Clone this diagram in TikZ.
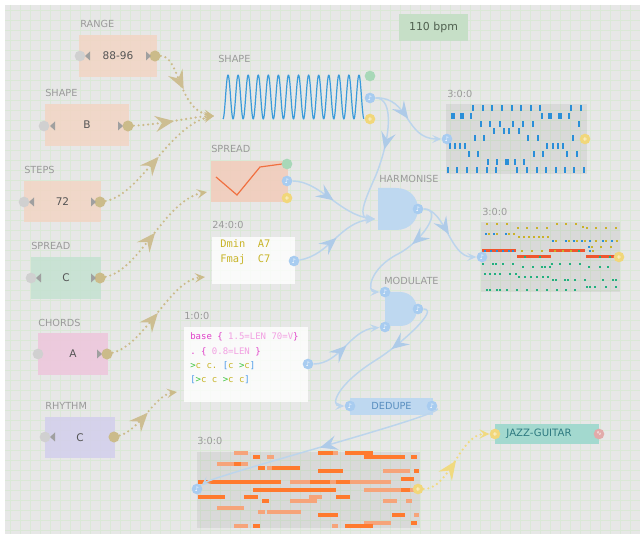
\documentclass[tikz,border=0pt]{standalone}
\usepackage{fontspec}
\setmainfont{DejaVu Sans}
\setmonofont{DejaVu Sans Mono}
\usetikzlibrary{arrows.meta,decorations.markings}
\definecolor{bgc}{HTML}{E7E7E7}
\definecolor{gridc}{HTML}{DAE8D6}
\definecolor{lblc}{HTML}{9A9A9A}
\definecolor{ptxt}{HTML}{555555}
\definecolor{peach}{HTML}{F2D5C4}
\definecolor{mint}{HTML}{C4E2D1}
\definecolor{pinkc}{HTML}{EEC5DC}
\definecolor{lav}{HTML}{D3CFEC}
\definecolor{salmon}{HTML}{F2CBBA}
\definecolor{tanc}{HTML}{CBBB8A}
\definecolor{tanm}{HTML}{CDBE92}
\definecolor{portgray}{HTML}{D0D0D0}
\definecolor{trigray}{HTML}{A0A0A0}
\definecolor{bluep}{HTML}{A8CCF0}
\definecolor{yellowp}{HTML}{F1D77A}
\definecolor{greenp}{HTML}{A8D8B8}
\definecolor{gatec}{HTML}{BED8F0}
\definecolor{linkc}{HTML}{BCD5EC}
\definecolor{linkd}{HTML}{AECBE8}
\definecolor{wavec}{HTML}{3A9BDA}
\definecolor{barblue}{HTML}{2A8FD8}
\definecolor{orA}{HTML}{FF7A2E}
\definecolor{orB}{HTML}{F6A47A}
\definecolor{olive}{HTML}{C9B22A}
\definecolor{redc}{HTML}{F0552E}
\definecolor{tealc}{HTML}{22B07E}
\definecolor{bpmc}{HTML}{C6DFC7}
\definecolor{bpmt}{HTML}{4F5F4F}
\definecolor{jazzc}{HTML}{A3D9CF}
\definecolor{jazzt}{HTML}{2E7A80}
\definecolor{dedt}{HTML}{5A8FC0}
\definecolor{magc}{HTML}{E040C8}
\definecolor{lmag}{HTML}{F2A0E2}
\definecolor{grc}{HTML}{3CC43C}
\definecolor{brc}{HTML}{4A9AE8}
\definecolor{codey}{HTML}{C8B428}
\definecolor{redport}{HTML}{E2AAAA}
\definecolor{yellk}{HTML}{F0DA80}
\definecolor{sprline}{HTML}{F07040}
\tikzset{
  lbl/.style={anchor=base west, inner sep=0pt, text=lblc, font=\fontsize{7.3}{8}\selectfont},
  pbox/.style n args={3}{rectangle, inner sep=0pt, fill=#1, fill opacity=0.85, text opacity=1,
     minimum width=#2*0.75pt, minimum height=#3*0.75pt, text=ptxt, font=\fontsize{7.9}{9}\selectfont},
  port/.style={circle, inner sep=0pt, minimum size=8pt, text=white, font=\fontsize{4.8}{5}\selectfont},
  gport/.style={port, fill=portgray},
  tport/.style={port, fill=tanc, minimum size=8.3pt},
  bport/.style={port, fill=bluep},
  yport/.style={port, fill=yellowp},
  grport/.style={port, fill=greenp},
  tanlink/.style={draw=tanc, line width=1.8pt, dash pattern=on 0pt off 3.6pt, line cap=round,
     -{Stealth[length=7.5pt,width=7pt,inset=3.2pt]}},
  yellink/.style={tanlink, draw=yellk},
  bluelink/.style={draw=linkc, line width=1.1pt, -{Stealth[length=7pt,width=6pt,inset=3pt]}},
  tanmid/.style={postaction={decorate,decoration={markings,mark=at position #1 with {\arrow[tanm]{Stealth[length=14pt,width=12pt,inset=5pt]}}}}},
  yelmid/.style={postaction={decorate,decoration={markings,mark=at position #1 with {\arrow[yellk]{Stealth[length=14pt,width=12pt,inset=5pt]}}}}},
  bluemid/.style={postaction={decorate,decoration={markings,mark=at position #1 with {\arrow[linkd]{Stealth[length=13pt,width=11pt,inset=5pt]}}}}},
  plotbox/.style={fill=black, fill opacity=0.06},
  textbox/.style={fill=white, fill opacity=0.8},
  codef/.style={anchor=base west, inner sep=0pt, font=\ttfamily\fontsize{6.75}{8}\selectfont},
  chordf/.style={anchor=base west, inner sep=0pt, text=codey, font=\ttfamily\fontsize{7.8}{9}\selectfont},
}
\begin{document}
\begin{tikzpicture}[x=0.75pt,y=-0.75pt]
\useasboundingbox (0,0) rectangle (640,534);
\fill[white] (0,0) rectangle (640,534);
\fill[bgc] (5,5) rectangle (640,534);
\foreach \i in {10,20,...,630} \draw[gridc, line width=0.45pt] (\i,5) -- (\i,534);
\foreach \j in {10,20,...,530} \draw[gridc, line width=0.45pt] (5,\j) -- (640,\j);

% ---------------- parameter boxes ----------------
\node[lbl] (lRange) at (80,28) {RANGE};
\node[pbox={peach}{78}{42}] (range) at (118,56) {88-96};
\node[lbl] (lShape) at (45,97) {SHAPE};
\node[pbox={peach}{84}{42}] (shapep) at (87,125) {B};
\node[lbl] (lSteps) at (24,174) {STEPS};
\node[pbox={peach}{77}{41}] (steps) at (62.5,201.5) {72};
\node[lbl] (lSpread) at (31,250) {SPREAD};
\node[pbox={mint}{70}{42}] (spreadp) at (66,278) {C};
\node[lbl] (lChords) at (38,327) {CHORDS};
\node[pbox={pinkc}{70}{42}] (chords) at (73,354) {A};
\node[lbl] (lRhythm) at (45,410) {RHYTHM};
\node[pbox={lav}{70}{41}] (rhythm) at (80,437.5) {C};

% ports of parameter boxes
\node[gport] (rangeL) at (80,56) {};
\node[tport] (rangeR) at (155,56) {};
\node[gport] (shapeL) at (44,126) {};
\node[tport] (shapeR) at (128,126) {};
\node[gport] (stepsL) at (24,202) {};
\node[tport] (stepsR) at (100,202) {};
\node[gport] (spreadL) at (31,278) {};
\node[tport] (spreadR) at (100,278) {};
\node[gport] (chordsL) at (38,354) {};
\node[tport] (chordsR) at (107,354) {};
\node[gport] (rhythmL) at (45,437) {};
\node[tport] (rhythmR) at (114,437) {};
% little triangles
\fill[trigray] (85,56) -- (90,51.5) -- (90,60.5) -- cycle;
\fill[trigray] (151,56) -- (146,51.5) -- (146,60.5) -- cycle;
\fill[trigray] (50,126) -- (55,121.5) -- (55,130.5) -- cycle;
\fill[trigray] (123,126) -- (118,121.5) -- (118,130.5) -- cycle;
\fill[trigray] (29,202) -- (34,197.5) -- (34,206.5) -- cycle;
\fill[trigray] (96,202) -- (91,197.5) -- (91,206.5) -- cycle;
\fill[trigray] (36,278) -- (41,273.5) -- (41,282.5) -- cycle;
\fill[trigray] (96,278) -- (91,273.5) -- (91,282.5) -- cycle;
\fill[trigray] (102,354) -- (97,349.5) -- (97,358.5) -- cycle;
\fill[trigray] (50,437) -- (55,432.5) -- (55,441.5) -- cycle;

% ---------------- SHAPE waveform ----------------
\node[lbl] (lWave) at (218,63) {SHAPE};
\draw[wavec, line width=0.9pt, line join=round] plot[domain=0:1, samples=340] ({223+141*\x}, {97+22*cos(14*360*\x)});
\coordinate (waveIn) at (214,116);
\node[grport] (waveG) at (370,76) {};
\node[bport] (waveB) at (370,98) {♪};
\node[yport] (waveY) at (370,119) {+};

% ---------------- SPREAD plot ----------------
\node[lbl] (lSprPlot) at (211,153) {SPREAD};
\fill[salmon, fill opacity=0.85] (211,161) rectangle (288,202);
\draw[sprline, line width=0.9pt] (216,177) -- (237,195) -- (260,167) -- (282,164);
\coordinate (sprIn) at (207,192);
\node[grport] (sprG) at (287,164) {};
\node[bport] (sprB) at (287,181) {♪};
\node[yport] (sprY) at (287,198) {+};

% ---------------- chord text ----------------
\node[lbl] (lChordT) at (212,229) {24:0:0};
\fill[textbox] (212,237) rectangle (295,284);
\node[chordf] (ch1) at (220,248) {Dmin~~A7};
\node[chordf] (ch2) at (220,263) {Fmaj~~C7};
\coordinate (chordIn) at (205,277);
\node[bport] (chordOut) at (294,261) {♪};

% ---------------- code text ----------------
\node[lbl] (lCode) at (184,320) {1:0:0};
\fill[textbox] (184,327) rectangle (308,402);
\node[codef] (c1) at (190,340) {\color{magc}base \{ \color{lmag}1.5=LEN 70=V\color{magc}\}};
\node[codef] (c2) at (190,355) {\color{magc}. \{ \color{lmag}0.8=LEN \color{magc}\}};
\node[codef] (c3) at (190,369) {\color{grc}>\color{codey}c c. \color{brc}[\color{codey}c \color{grc}>\color{codey}c\color{brc}]};
\node[codef] (c4) at (190,383) {\color{brc}[\color{grc}>\color{codey}c c \color{grc}>\color{codey}c c\color{brc}]};
\coordinate (codeIn) at (177,392);
\node[bport] (codeOut) at (308,364) {♪};

% ---------------- bpm ----------------
\node[rectangle, fill=bpmc, minimum width=51.75pt, minimum height=20.25pt, inner sep=0pt,
  text=bpmt, font=\fontsize{8.2}{10}\selectfont] (bpm) at (433.5,27.5) {110 bpm};

% ---------------- rhythm plot ----------------
\node[lbl] (lRhy) at (447,98) {3:0:0};
\fill[plotbox] (446,104) rectangle (587,174);
\foreach \y/\xs in {108/{473,483,492,502,512,521,531,540,571,581},
  116/{471,542,569},
  124/{481,490,500,513,523,533,579},
  131/{494,504,509,519},
  138/{475,484,528,538,573},
  146/{450,455,460,465,547,553,558,563},
  154/{469,478,534,543,567,577},
  162/{488,497,506,508,515,524},
  170/{448,457,467,477,487,496,517,527,537,546,556,565,574,584}}
  {\foreach \x in \xs {\fill[barblue] ({\x-0.9},{\y-3}) rectangle ({\x+0.9},{\y+3});}}
\foreach \x in {453,462,550,560} \fill[barblue] ({\x-1.6},113) rectangle ({\x+1.6},119);
\node[bport] (rhyIn) at (447,139) {♪};
\node[yport] (rhyOut) at (585,139) {+};

% ---------------- HARMONISE ----------------
\node[lbl] (lHarm) at (379,183) {HARMONISE};
\fill[gatec] (378,188) -- (396,188) .. controls (410,188) and (418,198) .. (418,209)
   .. controls (418,220) and (410,230) .. (396,230) -- (378,230) -- cycle;
\coordinate (harmIn) at (375,219);
\node[bport] (harmOut) at (418,209) {♪};

% ---------------- mixed plot ----------------
\node[lbl] (lMix) at (482,216) {3:0:0};
\fill[plotbox] (481,222) rectangle (620,292);
\fill[redc] (482,249.5) rectangle (516,252.5);
\fill[redc] (549,249.5) rectangle (585,252.5);
\fill[redc] (517,255.5) rectangle (551,258.5);
\fill[redc] (586,255.5) rectangle (618,258.5);
\foreach \x/\y/\c in {
  487/224/olive,497/224/olive,507/224/olive,557/224/olive,566/224/olive,576/224/olive,
  518/228/olive,527/228/olive,537/228/olive,547/228/olive,583/227/olive,587/228/olive,596/228/olive,606/228/olive,616/228/olive,
  486/234/barblue,489/234/olive,494/234/barblue,497/234/olive,506/234/barblue,509/234/olive,514/234/olive,
  519/237/olive,524/237/olive,529/237/olive,534/237/olive,539/237/olive,543/237/olive,548/237/olive,
  553/241/barblue,556/241/olive,566/241/barblue,569/241/olive,574/241/barblue,577/241/olive,582/241/barblue,585/241/olive,590/241/barblue,596/241/olive,603/241/barblue,606/241/olive,612/241/barblue,617/241/olive,
  589/247/barblue,592/247/olive,601/247/olive,611/247/olive,
  485/251/barblue,491/251/barblue,497/251/barblue,503/251/barblue,509/251/barblue,513/251/barblue,
  522/251/olive,532/251/olive,542/251/olive,
  555/251/olive,563/251/olive,571/251/olive,579/251/tealc,590/251/barblue,593/251/olive,
  525/257/tealc,540/257/tealc,600/257/tealc,610/257/tealc,
  483/264/tealc,493/264/tealc,496/264/tealc,503/264/tealc,513/264/tealc,552/264/tealc,560/264/tealc,570/264/tealc,580/264/tealc,
  523/267/tealc,533/267/tealc,542/267/tealc,545/267/tealc,550/267/tealc,589/267/tealc,600/267/tealc,608/267/tealc,
  485/274/tealc,490/274/tealc,495/274/tealc,500/274/tealc,510/274/tealc,516/274/tealc,
  519/277/tealc,525/277/tealc,531/277/tealc,537/277/tealc,543/277/tealc,548/277/tealc,
  553/280/tealc,556/280/tealc,565/280/tealc,568/280/tealc,575/280/tealc,585/280/tealc,603/280/tealc,613/280/tealc,616/280/tealc,
  587/287/tealc,590/287/tealc,595/287/tealc,606/287/tealc,616/287/tealc,
  487/290/tealc,490/290/tealc,497/290/tealc,500/290/tealc,507/290/tealc,517/290/tealc,527/290/tealc,537/290/tealc,547/290/tealc,557/290/tealc,566/290/tealc,575/290/tealc}
  {\fill[\c] ({\x-1.3},{\y-1.4}) rectangle ({\x+1.3},{\y+1.4});}
\node[bport] (mixIn) at (482,257) {♪};
\node[yport] (mixOut) at (619,257) {+};

% ---------------- MODULATE ----------------
\node[lbl] (lMod) at (384,285) {MODULATE};
\fill[gatec] (385,292) -- (400,292) .. controls (411,292) and (417,301) .. (417,309)
   .. controls (417,318) and (411,326) .. (400,326) -- (385,326) -- cycle;
\node[bport] (modTop) at (385,292) {♪};
\node[bport] (modBot) at (385,327) {♪};
\node[bport] (modOut) at (418,309) {♪};

% ---------------- DEDUPE ----------------
\node[rectangle, fill=gatec, minimum width=62.25pt, minimum height=12.75pt, inner sep=0pt,
  text=dedt, font=\fontsize{7.3}{9}\selectfont] (dedupe) at (391.5,406.5) {DEDUPE};
\node[bport] (dedIn) at (350,406) {♪};
\node[bport] (dedOut) at (432,406) {♪};

% ---------------- piano roll ----------------
\node[lbl] (lRoll) at (197,445) {3:0:0};
\fill[plotbox] (197,452) rectangle (420,528);
\foreach \a/\b/\y/\c in {
  234/248/453/orB, 318/333/453/orA, 333/338/453/orB, 345/373/453/orA,
  253/260/457/orA, 267/274/457/orB, 364/405/457/orA, 411/417/457/orA,
  217/234/464/orB, 234/241/464/orA, 241/248/464/orB,
  258/265/468/orA, 267/272/468/orB, 272/300/468/orA,
  318/343/471/orA, 383/397/471/orB, 397/410/471/orB, 414/419/471/orA,
  401/414/479/orA,
  198/245/482/orA, 245/281/482/orA, 290/310/482/orB, 310/330/482/orA, 330/336/482/orB, 336/350/482/orA, 350/391/482/orB,
  253/336/490/orA, 364/401/490/orB, 401/410/490/orA, 410/417/490/orB,
  198/225/497/orA, 244/258/497/orA, 309/322/497/orB, 336/350/497/orA,
  262/269/501/orA, 290/317/501/orB, 383/397/501/orB, 406/412/501/orB,
  217/244/508/orB,
  258/265/512/orB, 267/301/512/orB,
  318/338/515/orA, 392/405/515/orA, 414/419/515/orB,
  364/391/523/orB, 411/417/523/orA,
  234/248/526/orB, 253/260/526/orA, 332/338/526/orB, 345/373/526/orA}
  {\fill[\c] (\a,{\y-1.7}) rectangle (\b,{\y+1.7});}
\node[bport] (rollIn) at (197,489) {♪};
\node[yport] (rollOut) at (418,489) {+};

% ---------------- JAZZ-GUITAR ----------------
\node[rectangle, fill=jazzc, minimum width=78pt, minimum height=15pt, inner sep=0pt,
  text=jazzt, font=\fontsize{7.6}{9}\selectfont] (jazz) at (547,434) {\hspace*{-12pt}JAZZ-GUITAR};
\node[yport] (jazzIn) at (495,434) {+};
\node[port, fill=redport] (jazzOut) at (599,434) {∿};

% ---------------- tan dotted links ----------------
\draw[tanlink, tanmid=0.5] (rangeR) .. controls (180,56) and (178,110) .. (waveIn);
\draw[tanlink, tanmid=0.5] (shapeR) .. controls (165,124) and (190,117) .. (waveIn);
\draw[tanlink, tanmid=0.5] (stepsR) .. controls (140,195) and (170,125) .. (waveIn);
\draw[tanlink, tanmid=0.5] (spreadR) .. controls (140,270) and (165,200) .. (sprIn);
\draw[tanlink, tanmid=0.5] (chordsR) .. controls (145,345) and (170,280) .. (chordIn);
\draw[tanlink, tanmid=0.5] (rhythmR) .. controls (140,430) and (155,395) .. (codeIn);

% ---------------- blue links ----------------
\draw[bluelink, bluemid=0.5] (waveB) .. controls (410,97) and (405,139) .. (rhyIn);
\draw[bluelink, bluemid=0.42] (waveB) .. controls (395,98) and (390,140) .. (376,175)
   .. controls (365,200) and (356,219) .. (harmIn);
\draw[bluelink, bluemid=0.5] (sprB) .. controls (320,181) and (340,215) .. (harmIn);
\draw[bluelink, bluemid=0.5] (chordOut) .. controls (330,255) and (340,222) .. (harmIn);
\draw[bluelink, bluemid=0.5] (harmOut) .. controls (445,209) and (450,257) .. (mixIn);
\draw[bluelink, bluemid=0.4] (harmOut) .. controls (445,209) and (420,243) .. (398,254)
   .. controls (370,268) and (366,292) .. (modTop);
\draw[bluelink, bluemid=0.5] (codeOut) .. controls (340,364) and (350,330) .. (modBot);
\draw[bluelink, bluemid=0.4] (modOut) .. controls (440,309) and (400,345) .. (376,360)
   .. controls (336,385) and (330,406) .. (dedIn);
\draw[bluelink, bluemid=0.5] (dedOut) .. controls (448,414) and (215,475) .. (rollIn);

% ---------------- yellow dotted link ----------------
\draw[yellink, yelmid=0.5] (rollOut) .. controls (450,489) and (460,434) .. (jazzIn);
\end{tikzpicture}
\end{document}
